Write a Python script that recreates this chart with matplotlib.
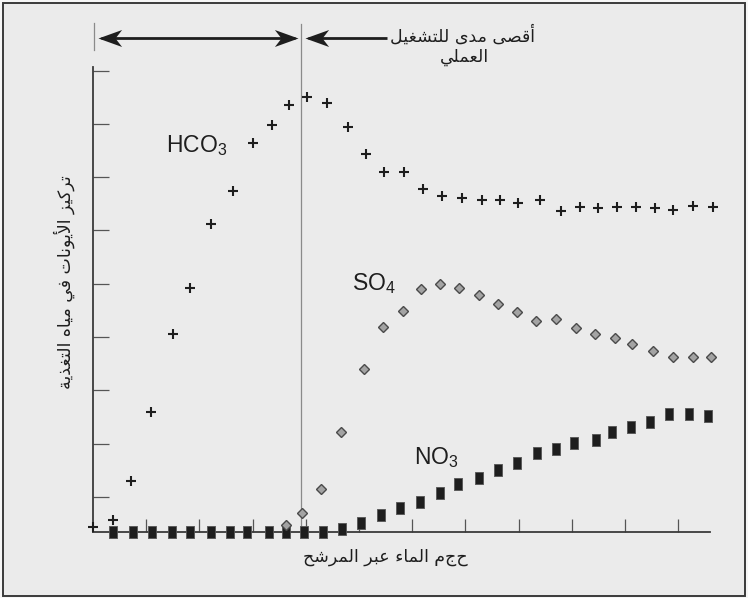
import numpy as np
import matplotlib
matplotlib.use("Agg")
import matplotlib.pyplot as plt
from matplotlib.path import Path
from matplotlib.patches import Rectangle

# --- data (volume units = x tick spacing, concentration units = y tick spacing) ---
hco3_x = [0.0, 0.38, 0.71, 1.09, 1.50, 1.82, 2.22, 2.63, 3.01, 3.36, 3.68, 4.02, 4.40,
          4.79, 5.13, 5.47, 5.85, 6.20, 6.56, 6.94, 7.31, 7.65, 7.99, 8.40, 8.80, 9.15,
          9.49, 9.85, 10.21, 10.56, 10.90, 11.28, 11.65]
hco3_y = [0.09, 0.23, 0.96, 2.25, 3.71, 4.58, 5.78, 6.40, 7.30, 7.64, 8.01, 8.16, 8.05,
          7.60, 7.09, 6.75, 6.75, 6.43, 6.30, 6.27, 6.23, 6.23, 6.17, 6.23, 6.02, 6.10,
          6.08, 6.10, 6.10, 6.08, 6.04, 6.12, 6.10]
so4_x = [3.63, 3.93, 4.29, 4.66, 5.09, 5.45, 5.83, 6.17, 6.52, 6.88, 7.26, 7.61, 7.97,
         8.33, 8.70, 9.08, 9.44, 9.81, 10.13, 10.53, 10.90, 11.28, 11.62]
so4_y = [0.13, 0.36, 0.81, 1.88, 3.06, 3.85, 4.15, 4.56, 4.65, 4.58, 4.45, 4.28, 4.13,
         3.96, 4.00, 3.83, 3.72, 3.64, 3.53, 3.40, 3.29, 3.29, 3.29]
no3_x = [0.38, 0.75, 1.11, 1.48, 1.82, 2.22, 2.58, 2.89, 3.31, 3.63, 3.97, 4.32, 4.68,
         5.04, 5.41, 5.77, 6.15, 6.52, 6.86, 7.26, 7.61, 7.97, 8.35, 8.70, 9.04, 9.45,
         9.76, 10.11, 10.47, 10.83, 11.20, 11.56]
no3_y = [0, 0, 0, 0, 0, 0, 0, 0, 0, 0, 0, 0, 0.06, 0.17, 0.32, 0.45, 0.56, 0.73, 0.90,
         1.01, 1.16, 1.29, 1.48, 1.56, 1.67, 1.73, 1.88, 1.97, 2.06, 2.21, 2.21, 2.18]
limit_x = 3.91          # maximum practical run
x_ticks = list(range(1, 12))

title_1 = "أقصى مدى للتشغيل"
title_2 = "العملي"
x_label = "حجم الماء عبر المرشح"
y_label = "تركيز الأيونات في مياه التغذية"

# --- minimal arabic shaping (matplotlib does no joining / RTL) ---
FORMS = {
    'ء': ('\uFE80', '\uFE80', None, None), 'أ': ('\uFE83', '\uFE84', None, None),
    'ا': ('\uFE8D', '\uFE8E', None, None), 'ب': ('\uFE8F', '\uFE90', '\uFE91', '\uFE92'),
    'ة': ('\uFE93', '\uFE94', None, None), 'ت': ('\uFE95', '\uFE96', '\uFE97', '\uFE98'),
    'ح': ('\uFEA1', '\uFEA2', '\uFEA3', '\uFEA4'), 'د': ('\uFEA9', '\uFEAA', None, None),
    'ذ': ('\uFEAB', '\uFEAC', None, None), 'ر': ('\uFEAD', '\uFEAE', None, None),
    'ز': ('\uFEAF', '\uFEB0', None, None), 'ش': ('\uFEB5', '\uFEB6', '\uFEB7', '\uFEB8'),
    'ص': ('\uFEB9', '\uFEBA', '\uFEBB', '\uFEBC'), 'ع': ('\uFEC9', '\uFECA', '\uFECB', '\uFECC'),
    'غ': ('\uFECD', '\uFECE', '\uFECF', '\uFED0'), 'ف': ('\uFED1', '\uFED2', '\uFED3', '\uFED4'),
    'ق': ('\uFED5', '\uFED6', '\uFED7', '\uFED8'), 'ك': ('\uFED9', '\uFEDA', '\uFEDB', '\uFEDC'),
    'ل': ('\uFEDD', '\uFEDE', '\uFEDF', '\uFEE0'), 'م': ('\uFEE1', '\uFEE2', '\uFEE3', '\uFEE4'),
    'ن': ('\uFEE5', '\uFEE6', '\uFEE7', '\uFEE8'), 'ه': ('\uFEE9', '\uFEEA', '\uFEEB', '\uFEEC'),
    'و': ('\uFEED', '\uFEEE', None, None), 'ى': ('\uFEEF', '\uFEF0', None, None),
    'ي': ('\uFEF1', '\uFEF2', '\uFEF3', '\uFEF4'),
}
LAM_ALEF = {'أ': ('\uFEF7', '\uFEF8'), 'ا': ('\uFEFB', '\uFEFC')}


def shape(s):
    def links_next(c):
        return c in FORMS and FORMS[c][2] is not None
    out, i, n = [], 0, len(s)
    while i < n:
        c = s[i]
        if c not in FORMS:
            out.append(c); i += 1; continue
        pj = i > 0 and links_next(s[i - 1])
        if c == 'ل' and i + 1 < n and s[i + 1] in LAM_ALEF:
            out.append(LAM_ALEF[s[i + 1]][1 if pj else 0]); i += 2; continue
        nj = links_next(c) and i + 1 < n and s[i + 1] in FORMS
        iso, fin, ini, med = FORMS[c]
        out.append(med if pj and nj else fin if pj else ini if nj else iso)
        i += 1
    return ''.join(reversed(out))


plt.rcParams['font.family'] = ['Liberation Sans', 'DejaVu Sans']
plt.rcParams['mathtext.fontset'] = 'custom'
plt.rcParams['mathtext.rm'] = 'Liberation Sans'

W, H = 748, 598
BG = '#ebebeb'
fig = plt.figure(figsize=(W / 100, H / 100), dpi=100, facecolor='#f6f6f6')
fig.patches.append(Rectangle((3 / W, 2 / H), 742 / W, 593 / H, transform=fig.transFigure,
                             facecolor=BG, edgecolor='#3a3a3a', lw=1.4, zorder=-10))

x0, y0, sx, sy = 93, 532, 53.2, 53.3          # pixel origin and pixels per unit
xmax, ymax = 11.7, 9.6
ax = fig.add_axes([x0 / W, (H - y0) / H, xmax * sx / W, ymax * sy / H])
ax.set_facecolor('none')
ax.set_xlim(0, xmax)
ax.set_ylim(0, ymax)
for s in ('top', 'right'):
    ax.spines[s].set_visible(False)
for s in ('left', 'bottom'):
    ax.spines[s].set_color('#3a3a3a')
    ax.spines[s].set_linewidth(1.3)
ax.spines['left'].set_bounds(0, 8.72)
ax.spines['bottom'].set_bounds(0, 11.6)
ax.set_xticks(x_ticks)
ax.set_yticks(np.arange(9) + 0.657)
ax.tick_params(axis='x', direction='in', length=9.4, width=0.9, color='#555', labelbottom=False)
ax.tick_params(axis='y', direction='in', length=11.5, width=0.9, color='#555', labelleft=False)

# markers
rect = Path([(-0.36, -0.5), (0.36, -0.5), (0.36, 0.5), (-0.36, 0.5), (-0.36, -0.5)])
ax.plot(no3_x, no3_y, ls='none', marker=rect, ms=8, mfc='#1e1e1e', mec='#555', mew=0.6,
        clip_on=False, zorder=4)
ax.plot(so4_x, so4_y, ls='none', marker='D', ms=4.8, mfc='#a3a3a3', mec='#4a4a4a', mew=1.0,
        clip_on=False, zorder=5)
ax.plot(hco3_x, hco3_y, ls='none', marker='+', ms=7.5, mec='#1e1e1e', mew=1.5,
        clip_on=False, zorder=6)

# practical limit line and arrows
ax.plot([limit_x, limit_x], [0, 9.53], color='#8a8a8a', lw=0.9, zorder=2)
ax.plot([0.02, 0.02], [9.04, 9.55], color='#8a8a8a', lw=0.9)
ay = 9.27
head = Path([(0, 0), (-1, 0.36), (-0.72, 0), (-1, -0.36), (0, 0)], closed=True)
head_l = Path([(0, 0), (1, 0.36), (0.72, 0), (1, -0.36), (0, 0)], closed=True)
ax.plot([0.15, 3.8], [ay, ay], color='#1e1e1e', lw=2.0, solid_capstyle='butt')
ax.plot([0.09], [ay], marker=head_l, ms=34, color='#1e1e1e', mew=0)
ax.plot([3.86], [ay], marker=head, ms=34, color='#1e1e1e', mew=0)
ax.plot([4.05, 5.53], [ay, ay], color='#1e1e1e', lw=2.0, solid_capstyle='butt')
ax.plot([3.99], [ay], marker=head_l, ms=34, color='#1e1e1e', mew=0)

# labels
def px(x, y):
    return x / W, 1 - y / H

fig.text(*px(166, 152), r'HCO$_\mathregular{3}$', fontsize=16.5, color='#1e1e1e', va='baseline')
fig.text(*px(352, 290), r'SO$_\mathregular{4}$', fontsize=16.5, color='#1e1e1e', va='baseline')
fig.text(*px(414, 464), r'NO$_\mathregular{3}$', fontsize=16.5, color='#1e1e1e', va='baseline')

ar = dict(family=['DejaVu Sans'], color='#1e1e1e', ha='center', va='center')
fig.text(*px(463, 35), shape(title_1), fontsize=12.5, **ar)
fig.text(*px(464, 57), shape(title_2), fontsize=12.5, **ar)
fig.text(*px(385, 557), shape(x_label), fontsize=12.5, **ar)
fig.text(*px(64, 282), shape(y_label), fontsize=12.5, rotation=90, **ar)

fig.savefig('out.png', dpi=100, facecolor=fig.get_facecolor())
